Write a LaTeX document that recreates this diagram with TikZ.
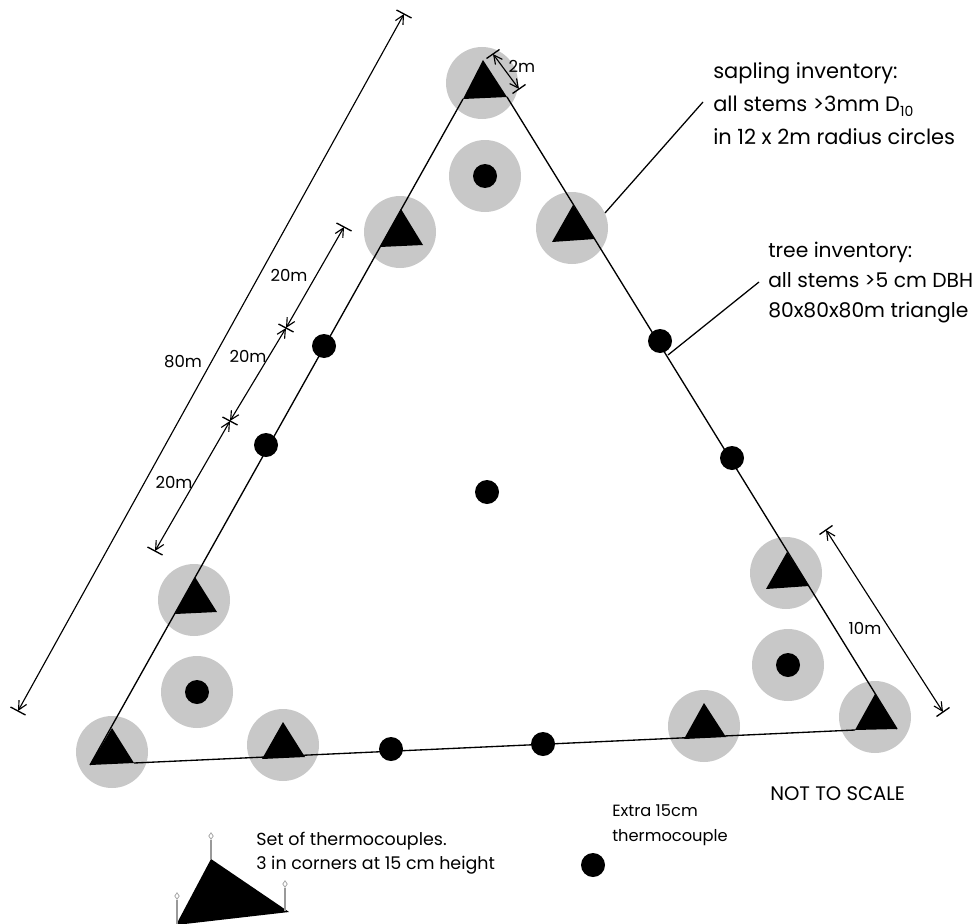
\documentclass[tikz,border=0pt]{standalone}
\usepackage{fontspec}
\setmainfont{Poppins}
\usetikzlibrary{arrows.meta,shapes.geometric}
\definecolor{plotgrey}{RGB}{200,200,200}
\tikzset{
  plot/.style={circle,fill=plotgrey,draw=none,minimum size=54pt,inner sep=0pt},
  dotmark/.style={circle,fill=black,draw=none,minimum size=18pt,inner sep=0pt},
  tri/.style={fill=black,draw=none},
  edge/.style={draw=black,line width=1pt},
  leader/.style={draw=black,line width=.95pt},
  dim/.style={draw=black,line width=.85pt,{Straight Barb[length=6.5pt,width=6.5pt]}-{Straight Barb[length=6.5pt,width=6.5pt]}},
  tickmark/.style={draw=black,line width=1pt},
  stem/.style={draw=gray!80,line width=.8pt},
  tip/.style={diamond,draw=gray!80,fill=white,line width=.5pt,minimum width=3.6pt,minimum height=5pt,inner sep=0pt},
  lab/.style={font=\fontsize{12.4pt}{14pt}\selectfont,inner sep=0pt,anchor=center},
  txt/.style={anchor=west,align=left,inner sep=0pt}
}
\begin{document}
\begin{tikzpicture}[x=0.75pt,y=-0.75pt]
\useasboundingbox (0,0) rectangle (978,924);
\clip (0,0) rectangle (978,924);
% sapling circles
\foreach \n/\x/\y in {a/482/83,b/485/176,c/572/228,d/400/232,e/786/573,f/788/665,g/875/717,h/704/726,i/283/745,j/112/752,k/197/692,l/194/600}
  \node[plot] (p\n) at (\x,\y) {};
% corners of the triangle
\coordinate (tl) at (90,765);
\coordinate (tt) at (463,99);
\coordinate (tr) at (507,97);
\coordinate (rb) at (897,729);
\coordinate (bl) at (134,763);
\coordinate (br) at (855,730);
\draw[edge] (tl) -- (tt);
\draw[edge] (tr) -- (rb);
\draw[edge] (bl) -- (br);
% triangles
\fill[tri] (483,60) -- (507,97) -- (463,99) -- cycle;
\fill[tri] (573,205) -- (595,239) -- (552,242) -- cycle;
\fill[tri] (401,209) -- (423,245) -- (380,247) -- cycle;
\fill[tri] (787,552) -- (809,586) -- (766,589) -- cycle;
\fill[tri] (875,694) -- (897,729) -- (855,730) -- cycle;
\fill[tri] (704,703) -- (726,737) -- (684,739) -- cycle;
\fill[tri] (283,722) -- (305,757) -- (262,759) -- cycle;
\fill[tri] (112,728) -- (134,763) -- (90,765) -- cycle;
\fill[tri] (195,577) -- (217,612) -- (175,614) -- cycle;
% dots
\foreach \n/\x/\y in {pb/485/176,pf/788/665,pk/197/692,q1/324/346,q2/266/445,q3/660/341,q4/732/458,q5/487/492,q6/391/749,q7/543/744,q8/593/865}
  \node[dotmark] (d\n) at (\x,\y) {};
% dimension: end ticks
\foreach \n/\x/\y in {A/404/14,B/18/711,C/344/227,D/286/328,E/230/421,F/155/551}{
  \coordinate (\n) at (\x,\y);
  \draw[tickmark] (\x-7.5,\y-4) -- (\x+7.5,\y+4);
}
\foreach \n/\x/\y in {G/493/54,H/519/89,I/826/530,J/943/712}{
  \coordinate (\n) at (\x,\y);
  \draw[tickmark] (\x-6.5,\y+4.5) -- (\x+6.5,\y-4.5);
}
\draw[dim] (A) -- (B);
\draw[dim] (C) -- (D);
\draw[dim] (D) -- (E);
\draw[dim] (E) -- (F);
\draw[dim] (G) -- (H);
\draw[dim] (I) -- (J);
% dimension labels
\node[lab] (l80) at (183,362) {80m};
\node[lab] (l201) at (289,275) {20m};
\node[lab] (l202) at (248,356) {20m};
\node[lab] (l203) at (174,482) {20m};
\node[lab] (l2) at (522,66) {2m};
\node[lab] (l10) at (865,628) {10m};
% leaders
\coordinate (s1) at (605,213);
\coordinate (s2) at (703,102);
\coordinate (t1) at (668,355);
\coordinate (t2) at (759,282);
\draw[leader] (s1) -- (s2);
\draw[leader] (t1) -- (t2);
% texts
\node[txt,font=\fontsize{15.7pt}{25pt}\selectfont] (sap) at (713,103.5) {sapling inventory:\\all stems >3mm D\raisebox{-3.5pt}{\fontsize{10.5pt}{10pt}\selectfont 10}\\in 12 x 2m radius circles};
\node[txt,font=\fontsize{15.2pt}{22.5pt}\selectfont] (tree) at (768,283) {tree inventory:\\all stems >5 cm DBH\\80x80x80m triangle};
\node[txt,font=\fontsize{14.7pt}{16pt}\selectfont] (nts) at (770,794) {NOT TO SCALE};
\node[txt,font=\fontsize{13.1pt}{18pt}\selectfont] (set) at (256,853.5) {Set of thermocouples.\\3 in corners at 15 cm height};
\node[txt,font=\fontsize{12.2pt}{18.5pt}\selectfont] (ext) at (612,825.5) {Extra 15cm\\thermocouple};
% legend triangle
\coordinate (la) at (211,859);
\coordinate (lb) at (289,912);
\coordinate (lc) at (176,925);
\fill[tri] (la) -- (lb) -- (lc) -- cycle;
\node[tip] (ta) at (211,836) {};
\node[tip] (tb) at (285,884) {};
\node[tip] (tc) at (177,896) {};
\draw[stem] (ta) -- (la);
\draw[stem] (tb) -- (285,911);
\draw[stem] (tc) -- (177,924);
\end{tikzpicture}
\end{document}
